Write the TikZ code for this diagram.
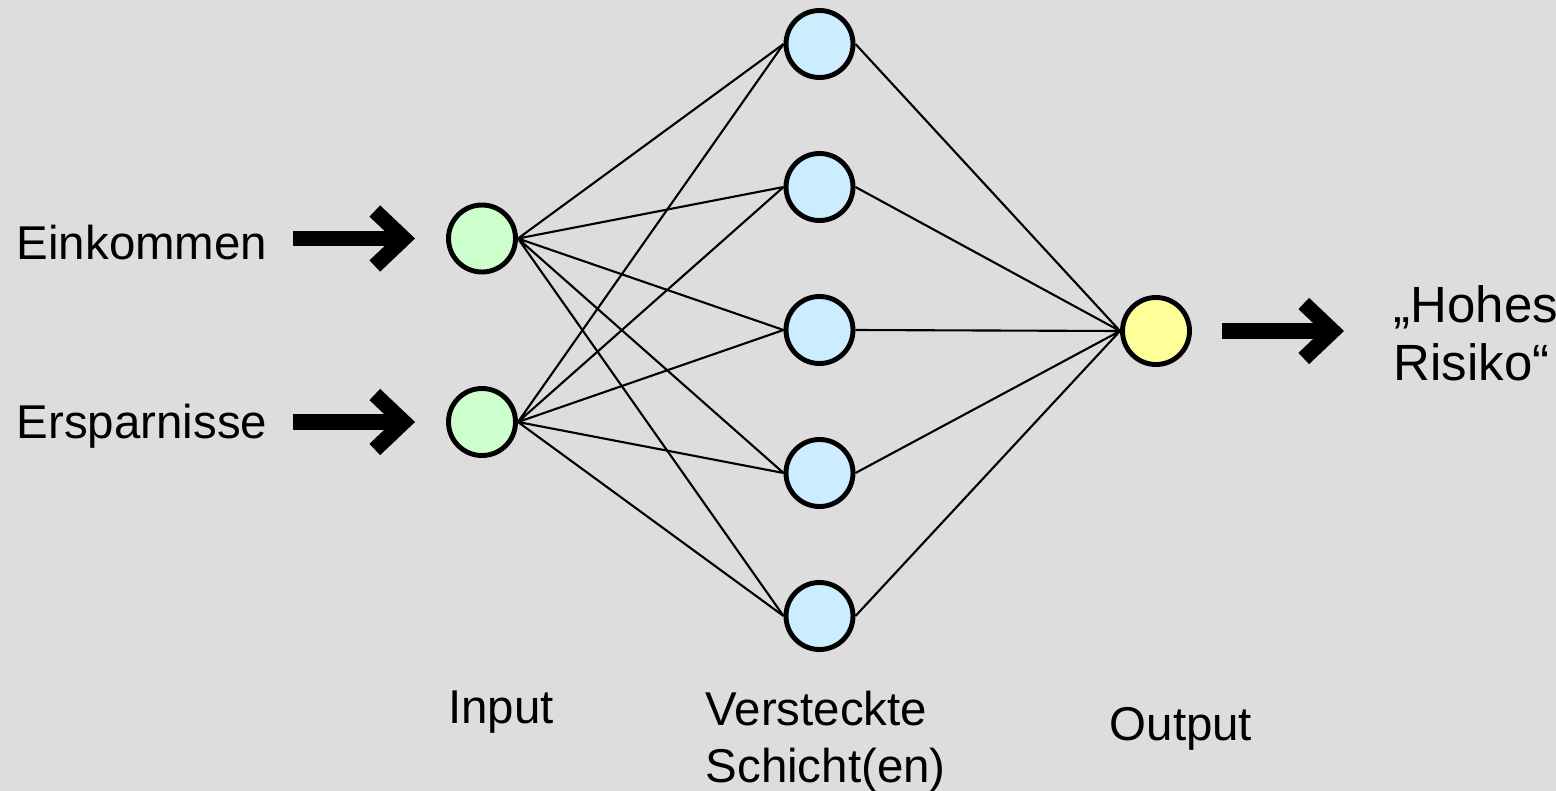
\documentclass[tikz,border=0pt]{standalone}
\usepackage{fontspec}
\setmainfont{Liberation Sans}
\usetikzlibrary{arrows.meta}
\definecolor{bggray}{RGB}{221,221,221}
\definecolor{ingreen}{RGB}{204,255,204}
\definecolor{hidblue}{RGB}{204,236,255}
\definecolor{outyellow}{RGB}{255,255,153}
\begin{document}
\begin{tikzpicture}[
  every node/.style={inner sep=0pt, font=\fontsize{13.5}{16.2}\selectfont},
  neuron/.style={circle, draw, line width=1.4pt, minimum size=0.67cm},
  edge/.style={line width=0.6pt},
  arrow/.style={line width=0.155cm, -{Straight Barb[sharp, length=2.9mm, width=5.5mm]}}
]
\fill[bggray] (0,0) rectangle (15.56,-7.91);
\useasboundingbox (0,0) rectangle (15.56,-7.91);
% neurons
\node[neuron, fill=ingreen] (in1) at (4.82,-2.385) {};
\node[neuron, fill=ingreen] (in2) at (4.82,-4.22) {};
\node[neuron, fill=hidblue] (h1) at (8.195,-0.44) {};
\node[neuron, fill=hidblue] (h2) at (8.195,-1.87) {};
\node[neuron, fill=hidblue] (h3) at (8.195,-3.30) {};
\node[neuron, fill=hidblue] (h4) at (8.195,-4.73) {};
\node[neuron, fill=hidblue] (h5) at (8.195,-6.16) {};
\node[neuron, fill=outyellow] (out) at (11.56,-3.31) {};
% texts
\node[anchor=base east] (ein) at (2.68,-2.59) {Einkommen};
\node[anchor=base east] (ers) at (2.68,-4.38) {Ersparnisse};
\node[anchor=north west, align=left, font=\fontsize{14.5}{16.5}\selectfont] (risk) at (13.93,-2.85) {„Hohes\\Risiko“};
\node[anchor=base] (inlab) at (5.01,-7.23) {Input};
\node[anchor=north west, align=left] (hidlab) at (7.05,-6.90) {Versteckte\\Schicht(en)};
\node[anchor=base west] (outlab) at (11.09,-7.40) {Output};
% connections
\draw[edge] (in1.east) -- (h1.west) (in1.east) -- (h2.west) (in1.east) -- (h3.west)
  (in1.east) -- (h4.west) (in1.east) -- (h5.west);
\draw[edge] (in2.east) -- (h1.west) (in2.east) -- (h2.west) (in2.east) -- (h3.west)
  (in2.east) -- (h4.west) (in2.east) -- (h5.west);
\draw[edge] (h1.east) -- (out.west) (h2.east) -- (out.west) (h3.east) -- (out.west)
  (h4.east) -- (out.west) (h5.east) -- (out.west);
% arrows
\draw[arrow, shorten <=0.25cm, shorten >=0.31cm] (ein.east |- in1.west) -- (in1.west);
\draw[arrow, shorten <=0.25cm, shorten >=0.31cm] (ers.east |- in2.west) -- (in2.west);
\draw[arrow, shorten <=0.30cm, shorten >=0.49cm] (out.east) -- (out.east -| risk.west);
\end{tikzpicture}
\end{document}
